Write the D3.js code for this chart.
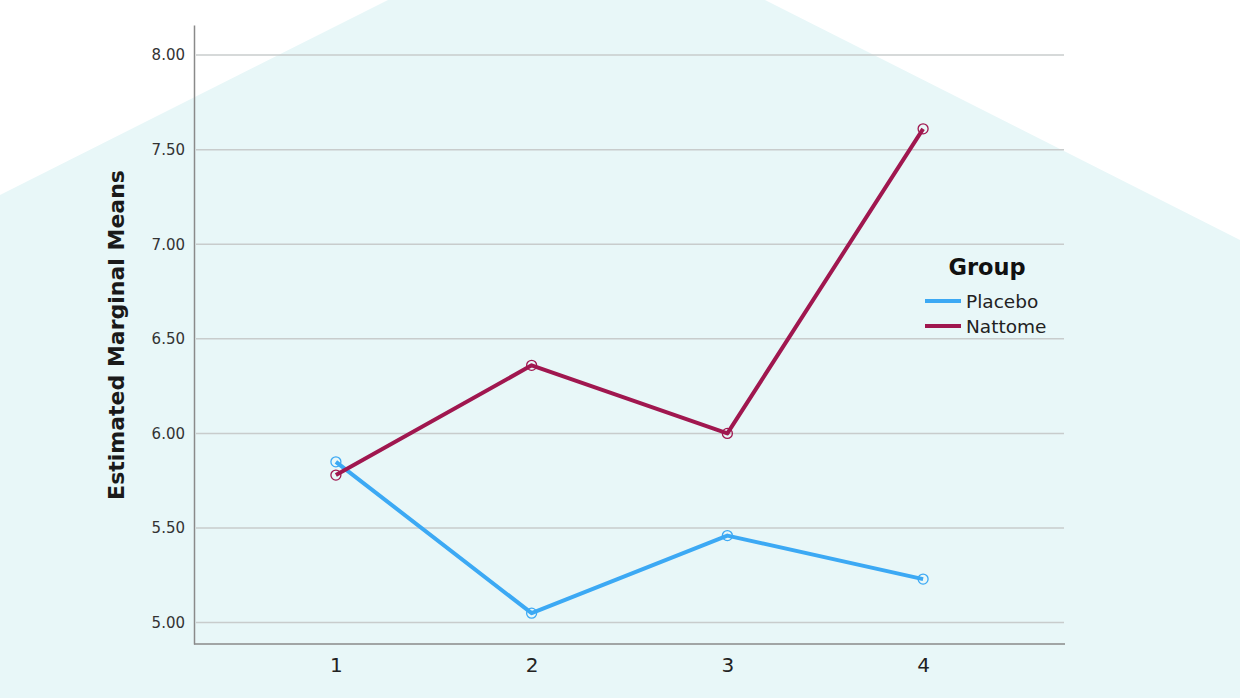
<!DOCTYPE html>
<html><head><meta charset="utf-8">
<script src="https://cdn.jsdelivr.net/npm/d3@7"></script>
<style>html,body{margin:0;padding:0;background:#fff;overflow:hidden}</style>
</head><body><svg id="c" width="1240" height="698"></svg>
<script>
const categories = ["1","2","3","4"];
const placebo = [5.85, 5.05, 5.46, 5.23];
const nattome = [5.78, 6.36, 6.00, 7.61];
const yTicks = [5.0, 5.5, 6.0, 6.5, 7.0, 7.5, 8.0];
const seriesNames = ["Placebo", "Nattome"];
const colors = ["#3ca9f4", "#a0174f"];

const svg = d3.select("#c");
// background shape
svg.append("path")
  .attr("d", "M0,195 L388,0 L765,0 L1240,240 L1240,698 L0,698 Z")
  .attr("fill", "#e8f7f8");

const x = d3.scalePoint().domain(categories).range([194, 1065]).padding(0.725);
const y = d3.scaleLinear().domain([4.887, 8.159]).range([644, 25]);

// gridlines
svg.append("g").selectAll("line").data(yTicks).join("line")
  .attr("x1", 196).attr("x2", 1064)
  .attr("y1", d => y(d)).attr("y2", d => y(d))
  .attr("stroke", "#c8cccc").attr("stroke-width", 1.5);

// y axis
const yAxis = svg.append("g").attr("transform", "translate(194,0)")
  .call(d3.axisLeft(y).tickValues(yTicks).tickFormat(d3.format(".2f")).tickSize(0).tickPadding(9));
yAxis.select(".domain").attr("stroke", "#8a8a8a").attr("stroke-width", 1.5);
yAxis.selectAll("text").attr("font-family", "DejaVu Sans, sans-serif").attr("font-size", 15).attr("fill", "#333");

// x axis
const xAxis = svg.append("g").attr("transform", "translate(0,644)")
  .call(d3.axisBottom(x).tickSize(0).tickPadding(14));
xAxis.select(".domain").attr("stroke", "#8a8a8a").attr("stroke-width", 1.5)
  .attr("d", "M194,0H1065");
xAxis.selectAll("text").attr("font-family", "DejaVu Sans, sans-serif").attr("font-size", 20).attr("fill", "#222");

// y label
svg.append("text")
  .attr("transform", "translate(124,335) rotate(-90)")
  .attr("text-anchor", "middle")
  .attr("font-family", "DejaVu Sans, sans-serif").attr("font-size", 22).attr("font-weight", "bold")
  .attr("fill", "#1a1a1a")
  .text("Estimated Marginal Means");

const data = [placebo, nattome];
const line = d3.line().x((d, i) => x(categories[i])).y(d => y(d));
data.forEach((s, k) => {
  svg.append("path").attr("d", line(s)).attr("fill", "none")
    .attr("stroke", colors[k]).attr("stroke-width", 4).attr("stroke-linejoin", "round");
  svg.append("g").selectAll("circle").data(s).join("circle")
    .attr("cx", (d, i) => x(categories[i])).attr("cy", d => y(d)).attr("r", 5)
    .attr("fill", "none").attr("stroke", colors[k]).attr("stroke-width", 1.3);
});

// legend
const lg = svg.append("g");
lg.append("text").attr("x", 987).attr("y", 275).attr("text-anchor", "middle")
  .attr("font-family", "DejaVu Sans, sans-serif").attr("font-size", 22.5).attr("font-weight", "bold")
  .attr("fill", "#111").text("Group");
seriesNames.forEach((n, k) => {
  const yy = 301 + k * 25;
  lg.append("line").attr("x1", 925).attr("x2", 961).attr("y1", yy).attr("y2", yy)
    .attr("stroke", colors[k]).attr("stroke-width", 4);
  lg.append("text").attr("x", 966).attr("y", yy + 6.5)
    .attr("font-family", "DejaVu Sans, sans-serif").attr("font-size", 18.5).attr("fill", "#222").text(n);
});
</script></body></html>
